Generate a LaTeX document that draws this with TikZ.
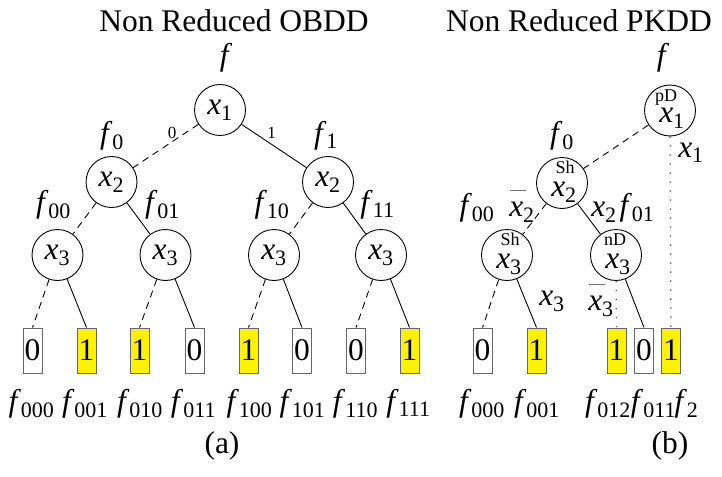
\documentclass[tikz,border=0pt]{standalone}
\usepackage{fontspec}
\setmainfont{Liberation Serif}[ItalicFont={Liberation Serif Italic}]
\usetikzlibrary{calc}
% variable with index, function with index, negated variable
\newcommand\vx[1]{\textit{x}\textsubscript{#1}}
\newcommand\vf[1]{\textit{f}\textsubscript{#1}}
\newcommand\nx[1]{\makebox[0pt][l]{\hspace{0.03em}\textcolor{black!55}{\rule[0.78em]{0.5em}{0.05em}}}\textit{x}\textsubscript{#1}}
\begin{document}
\begin{tikzpicture}[x=1pt,y=-1pt,
  font=\fontsize{31.5}{36}\selectfont,
  vnode/.style={circle,draw,line width=0.9pt,minimum size=51pt,inner sep=0pt},
  leaf/.style={draw=black!60,line width=0.9pt,minimum width=19pt,minimum height=45pt,inner sep=0pt},
  one/.style={leaf,fill=yellow},
  lbl/.style={anchor=base,inner sep=0pt},
  tag/.style={anchor=base,inner sep=0pt,font=\fontsize{18}{20}\selectfont},
  edgelbl/.style={anchor=base,inner sep=0pt,font=\fontsize{17}{19}\selectfont},
  lo/.style={line width=0.9pt,dash pattern=on 7pt off 5pt},
  hi/.style={line width=0.9pt},
  dotline/.style={line width=1.3pt,black!65,dash pattern=on 1.3pt off 7.7pt}]
\useasboundingbox (0,0) rectangle (722,476);

% ---------------- (a) non reduced OBDD ----------------
\node[lbl] (ta) at (234,32) {Non Reduced OBDD};
\node[lbl] (fa) at (226,66) {\textit{f}};
\node[vnode] (a1) at (220,110) {\vx{1}};
\node[vnode] (a20) at (111.5,182) {\vx{2}};
\node[vnode] (a21) at (328,182) {\vx{2}};
\node[vnode] (a300) at (57.5,255) {\vx{3}};
\node[vnode] (a301) at (165.5,255) {\vx{3}};
\node[vnode] (a310) at (274,255) {\vx{3}};
\node[vnode] (a311) at (381,255) {\vx{3}};

\node[leaf] (l000) at (32.5,350.5) {0};
\node[one]  (l001) at (86.5,350.5) {1};
\node[one]  (l010) at (139.5,350.5) {1};
\node[leaf] (l011) at (194.5,350.5) {0};
\node[one]  (l100) at (248.5,350.5) {1};
\node[leaf] (l101) at (302,350.5) {0};
\node[leaf] (l110) at (356,350.5) {0};
\node[one]  (l111) at (409.5,350.5) {1};

\draw[lo] (a1) -- (a20);
\draw[hi] (a1) -- (a21);
\draw[lo] (a20) -- (a300);
\draw[hi] (a20) -- (a301);
\draw[lo] (a21) -- (a310);
\draw[hi] (a21) -- (a311);
\draw[lo] (a300) -- (l000.north);
\draw[hi] (a300) -- (l001.north);
\draw[lo] (a301) -- (l010.north);
\draw[hi] (a301) -- (l011.north);
\draw[lo] (a310) -- (l100.north);
\draw[hi] (a310) -- (l101.north);
\draw[lo] (a311) -- (l110.north);
\draw[hi] (a311) -- (l111.north);

\node[edgelbl] (e0) at (172,138) {0};
\node[edgelbl] (e1) at (271.5,138) {1};
\node[lbl] (fa0) at (112,143) {\vf{0}};
\node[lbl] (fa1) at (326,143) {\vf{1}};
\node[lbl] (fa00) at (53.5,212) {\vf{00}};
\node[lbl] (fa01) at (162.5,212) {\vf{01}};
\node[lbl] (fa10) at (272,212) {\vf{10}};
\node[lbl] (fa11) at (377.5,212) {\vf{11}};

\node[lbl] (g000) at (31.5,411) {\vf{000}};
\node[lbl] (g001) at (85,411) {\vf{001}};
\node[lbl] (g010) at (140,411) {\vf{010}};
\node[lbl] (g011) at (193.5,411) {\vf{011}};
\node[lbl] (g100) at (249.5,411) {\vf{100}};
\node[lbl] (g101) at (302.5,411) {\vf{101}};
\node[lbl] (g110) at (355.5,411) {\vf{110}};
\node[lbl] (g111) at (408.5,411) {\vf{111}};
\node[lbl] (capa) at (222,453) {(a)};

% ---------------- (b) non reduced PKDD ----------------
\node[lbl] (tb) at (579,32) {Non Reduced PKDD};
\node[lbl] (fb) at (663,66) {\textit{f}};
\node[vnode] (b1) at (670,110.5) {};
\node[vnode] (b2) at (562,183) {};
\node[vnode] (b3s) at (507,255) {};
\node[vnode] (b3n) at (616,255) {};
\node[tag] (b1t) at ($(b1)+(-4,-9)$) {pD};
\node[lbl] (b1x) at ($(b1)+(2,12)$) {\vx{1}};
\node[tag] (b2t) at ($(b2)+(3,-10)$) {Sh};
\node[lbl] (b2x) at ($(b2)+(2,13)$) {\vx{2}};
\node[tag] (b3st) at ($(b3s)+(3,-10)$) {Sh};
\node[lbl] (b3sx) at ($(b3s)+(2,13)$) {\vx{3}};
\node[tag] (b3nt) at ($(b3n)+(-1,-10)$) {nD};
\node[lbl] (b3nx) at ($(b3n)+(2,13)$) {\vx{3}};

\node[leaf] (m000) at (482.5,350.5) {0};
\node[one]  (m001) at (536.5,350.5) {1};
\node[one]  (m012) at (616.5,350.5) {1};
\node[leaf] (m011) at (644,350.5) {0};
\node[one]  (m2)   at (671,350.5) {1};

\draw[lo] (b1) -- (b2);
\draw[dotline] (b1) -- (m2.north);
\draw[lo] (b2) -- (b3s);
\draw[hi] (b2) -- (b3n);
\draw[lo] (b3s) -- (m000.north);
\draw[hi] (b3s) -- (m001.north);
\draw[dotline] (b3n) -- (m012.north);
\draw[hi] (b3n) -- (m011.north);

\node[lbl] (fb0) at (562,143) {\vf{0}};
\node[lbl] (kx1) at (691,157) {\vx{1}};
\node[lbl] (fb00) at (477,215) {\vf{00}};
\node[lbl] (kn2) at (522,216) {\nx{2}};
\node[lbl] (kx2) at (604,216) {\vx{2}};
\node[lbl] (fb01) at (637,215) {\vf{01}};
\node[lbl] (kx3) at (552,305) {\vx{3}};
\node[lbl] (kn3) at (601,310) {\nx{3}};

\node[lbl] (h000) at (482,411) {\vf{000}};
\node[lbl] (h001) at (537,411) {\vf{001}};
\node[lbl] (h012) at (608,411) {\vf{012}};
\node[lbl] (h011) at (653.5,411) {\vf{011}};
\node[lbl] (h2)   at (686.5,411) {\vf{2}};
\node[lbl] (capb) at (670,453) {(b)};
\end{tikzpicture}
\end{document}
